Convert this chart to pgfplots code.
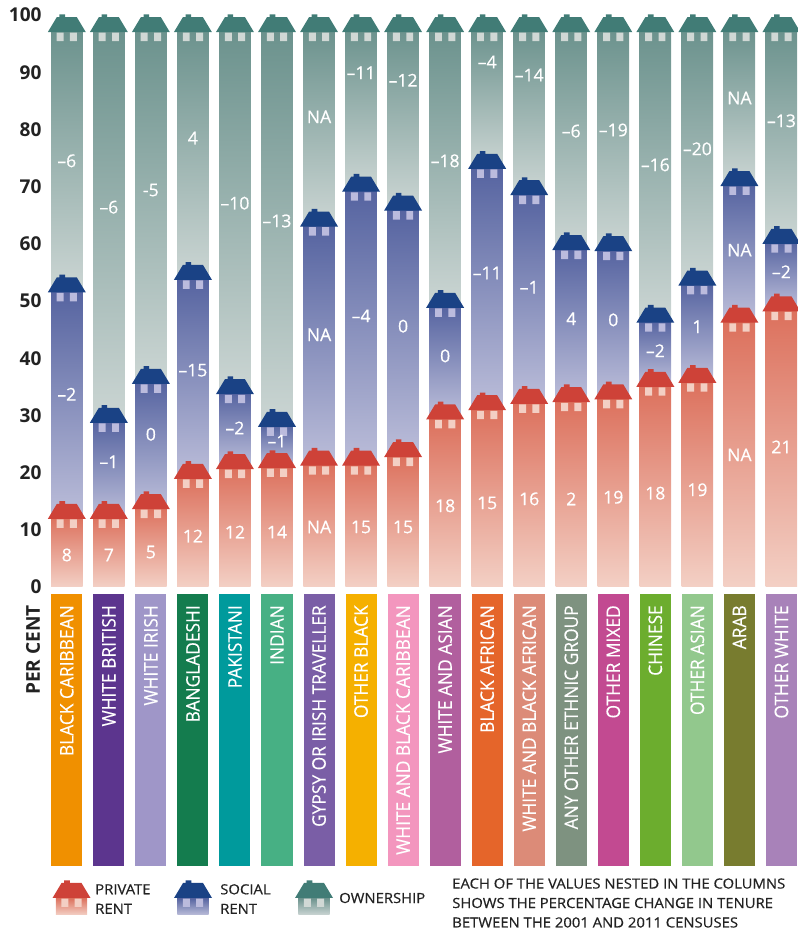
\documentclass[border=0pt]{standalone}
\usepackage{pgfplots}
\pgfplotsset{compat=1.18}
\usepackage{pgfplotstable}
\usepackage{fontspec}
\setmainfont{Open Sans}
\newfontfamily\cond[FakeBold=0.3,FakeStretch=0.93]{Open Sans}
\newfontfamily\medf[FakeBold=0.5,FakeStretch=1.06]{Open Sans}
\newfontfamily\valf[FakeBold=0.5]{Open Sans}
\definecolor{roofR}{HTML}{CE4238}\definecolor{roofB}{HTML}{1A4285}\definecolor{roofT}{HTML}{417C76}
\definecolor{winR}{HTML}{F3CFC4}\definecolor{winB}{HTML}{BBBBDD}\definecolor{winT}{HTML}{D0D8D5}
\definecolor{topR}{HTML}{DC705C}\definecolor{botR}{HTML}{F3D0C5}
\definecolor{topB}{HTML}{5563A0}\definecolor{botB}{HTML}{BBBDD9}
\definecolor{topT}{HTML}{6B928D}\definecolor{botT}{HTML}{CBD5D3}
\definecolor{ink}{HTML}{222222}
\definecolor{c0}{HTML}{F09000}\definecolor{c1}{HTML}{5C358E}\definecolor{c2}{HTML}{9F96C8}
\definecolor{c3}{HTML}{147C4E}\definecolor{c4}{HTML}{009A9C}\definecolor{c5}{HTML}{47B084}
\definecolor{c6}{HTML}{7A5EA6}\definecolor{c7}{HTML}{F5B000}\definecolor{c8}{HTML}{F396BE}
\definecolor{c9}{HTML}{B15F9E}\definecolor{c10}{HTML}{E5652A}\definecolor{c11}{HTML}{DC8B78}
\definecolor{c12}{HTML}{7E9280}\definecolor{c13}{HTML}{C24A91}\definecolor{c14}{HTML}{6CAD2E}
\definecolor{c15}{HTML}{92C88D}\definecolor{c16}{HTML}{787C2F}\definecolor{c17}{HTML}{A882B9}
\newcommand\declroof[3]{\pgfdeclareplotmark{#1}{%
 \pgfsetfillcolor{#2}%
 \pgfpathmoveto{\pgfqpoint{-14.25pt}{0pt}}%
 \pgfpathlineto{\pgfqpoint{-7.5pt}{11.25pt}}%
 \pgfpathlineto{\pgfqpoint{-5.5pt}{11.25pt}}%
 \pgfpathlineto{\pgfqpoint{-5.5pt}{13.3pt}}%
 \pgfpathlineto{\pgfqpoint{-1.3pt}{13.3pt}}%
 \pgfpathlineto{\pgfqpoint{-1.3pt}{11.25pt}}%
 \pgfpathlineto{\pgfqpoint{7.5pt}{11.25pt}}%
 \pgfpathlineto{\pgfqpoint{14.25pt}{0pt}}%
 \pgfpathclose\pgfusepathqfill
 \pgfsetfillcolor{#3}%
 \pgfpathrectangle{\pgfqpoint{-7.6pt}{-6.7pt}}{\pgfqpoint{5.2pt}{6.3pt}}%
 \pgfpathrectangle{\pgfqpoint{2.4pt}{-6.7pt}}{\pgfqpoint{5.2pt}{6.3pt}}%
 \pgfusepathqfill}}
\declroof{roofr}{roofR}{winR}
\declroof{roofb}{roofB}{winB}
\declroof{rooft}{roofT}{winT}
% stacked segments: hidden base, private, social, ownership
\pgfplotstableread{
i base priv soc own
0 -0.5 12.4 39.6 45.5
1 -0.5 12.4 16.8 68.3
2 -0.5 14.1 21.9 61.5
3 -0.5 19.4 34.8 43.3
4 -0.5 21.1 13.1 63.3
5 -0.5 21.3 7.2 69.0
6 -0.5 21.7 41.8 34.0
7 -0.5 21.7 47.9 27.9
8 -0.5 23.2 43.1 31.2
9 -0.5 29.8 19.5 48.2
10 -0.5 31.4 42.2 23.9
11 -0.5 32.5 36.5 28.5
12 -0.5 32.8 26.6 38.1
13 -0.5 33.3 25.9 38.3
14 -0.5 35.5 11.2 50.8
15 -0.5 36.2 17.0 44.3
16 -0.5 46.7 23.9 26.9
17 -0.5 48.7 11.8 37.0
}\segs
\pgfplotstableread{
x y l
0 5.6 8
1 5.6 7
2 6.1 5
3 8.9 12
4 9.6 12
5 9.6 14
6 10.5 NA
7 10.5 15
8 10.5 15
9 14.2 18
10 14.7 15
11 15.4 16
12 15.4 2
13 15.7 19
14 16.4 18
15 17.0 19
16 23.1 NA
17 24.5 21
0 33.7 –2
1 21.9 –1
2 26.7 0
3 37.9 –15
4 27.8 –2
5 25.5 –1
6 44.1 NA
7 47.4 –4
8 45.6 0
9 40.4 0
10 54.9 –11
11 52.4 –1
12 46.9 4
13 46.7 0
14 41.3 –2
15 45.5 1
16 58.9 NA
17 55.1 –2
0 74.5 –6
1 66.4 –6
2 69.4 -5
3 78.5 4
4 67.1 –10
5 64.0 –13
6 82.2 NA
7 89.9 –11
8 88.6 –12
9 74.5 –18
10 91.8 –4
11 89.5 –14
12 79.7 –6
13 79.9 –19
14 73.8 –16
15 76.6 –20
16 85.5 NA
17 81.5 –13
}\vals
\pgfplotsset{base/.style={scale only axis,width=567.5pt,height=429pt,xmin=-0.5,xmax=17.5,ymin=0,ymax=100,
  at={(34.335pt,257.25pt)},anchor=south west,clip=false,enlargelimits=false}}
\newcommand\cat[2]{%
 \fill[fill=c#1] (axis cs:#1-0.369,-1.22) rectangle (axis cs:#1+0.369,-48.8);
 \node[rotate=90,anchor=east,inner sep=0pt,text=white,font=\cond\fontsize{14}{16}\selectfont] at (axis cs:#1,-3.15) {#2};}
\newcommand\icon[4]{%
 \shade[top color=#2,bottom color=#3] (#1-15.7,32) rectangle (#1+15.7,15);
 \begin{scope}[shift={(#1,32)}]\pgfuseplotmark{#4}\end{scope}}
\tikzset{leg/.style={anchor=west,inner sep=0pt,text=ink,align=left,font=\medf\fontsize{10.5}{14.6}\selectfont}}
\begin{document}
\begin{tikzpicture}[x=.75pt,y=.75pt]
\useasboundingbox (0,0) rectangle (798,930);
\pgfplotsinvokeforeach{0,...,17}{%
\begin{axis}[base,hide axis,ybar stacked,bar width=23.6pt,restrict x to domain=#1:#1]
 \addplot[draw=none,fill=none,forget plot] table[x=i,y=base]{\segs};
 \addplot[draw=none,shade,top color=topR,bottom color=botR] table[x=i,y=priv]{\segs};
 \addplot[draw=none,shade,top color=topB,bottom color=botB] table[x=i,y=soc]{\segs};
 \addplot[draw=none,shade,top color=topT,bottom color=botT] table[x=i,y=own]{\segs};
\end{axis}}
\begin{axis}[base,stack plots=y,
  axis line style={draw=none},tick style={draw=none},xtick=\empty,
  ytick={0,10,...,100},
  /pgf/number format/assume math mode=true,
  yticklabel style={anchor=east,inner sep=0pt,xshift=-3pt,text=ink,font=\bfseries\fontsize{14.3}{16}\selectfont}]
 \addplot[draw=none,mark=none,forget plot] table[x=i,y=base]{\segs};
 \addplot[only marks,mark=roofr] table[x=i,y=priv]{\segs};
 \addplot[only marks,mark=roofb] table[x=i,y=soc]{\segs};
 \addplot[only marks,mark=rooft] table[x=i,y=own]{\segs};
\end{axis}
\begin{axis}[base,hide axis]
 \addplot[draw=none,mark=none,point meta=explicit symbolic,nodes near coords,
   every node near coord/.append style={anchor=center,inner sep=0pt,text=white,font=\valf\fontsize{13.2}{14}\selectfont}]
   table[x=x,y=y,meta=l]{\vals};
 \cat{0}{BLACK CARIBBEAN}
 \cat{1}{WHITE BRITISH}
 \cat{2}{WHITE IRISH}
 \cat{3}{BANGLADESHI}
 \cat{4}{PAKISTANI}
 \cat{5}{INDIAN}
 \cat{6}{GYPSY OR IRISH TRAVELLER}
 \cat{7}{OTHER BLACK}
 \cat{8}{WHITE AND BLACK CARIBBEAN}
 \cat{9}{WHITE AND ASIAN}
 \cat{10}{BLACK AFRICAN}
 \cat{11}{WHITE AND BLACK AFRICAN}
 \cat{12}{ANY OTHER ETHNIC GROUP}
 \cat{13}{OTHER MIXED}
 \cat{14}{CHINESE}
 \cat{15}{OTHER ASIAN}
 \cat{16}{ARAB}
 \cat{17}{OTHER WHITE}
\end{axis}
\node[rotate=90,anchor=east,inner sep=0pt,text=ink,font=\bfseries\fontsize{14.3}{16}\selectfont] at (33,325) {PER CENT};
\icon{71.5}{topR}{botR}{roofr}
\icon{193}{topB}{botB}{roofb}
\icon{314}{topT}{botT}{rooft}
\node[leg] at (95,31) {PRIVATE\\RENT};
\node[leg] at (220,31) {SOCIAL\\RENT};
\node[leg] at (339,32) {OWNERSHIP};
\node[leg] at (452,27) {EACH OF THE VALUES NESTED IN THE COLUMNS\\SHOWS THE PERCENTAGE CHANGE IN TENURE\\BETWEEN THE 2001 AND 2011 CENSUSES};
\end{tikzpicture}
\end{document}
